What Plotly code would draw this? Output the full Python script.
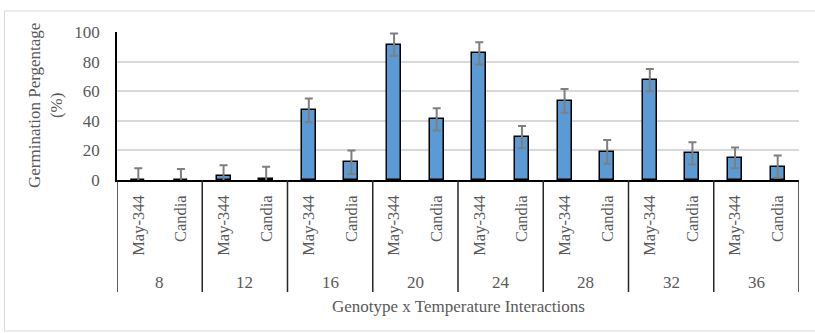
import plotly.graph_objects as go

temperatures = [8, 12, 16, 20, 24, 28, 32, 36]
genotypes = ["May-344", "Candia"]
may344_values = [0, 2.5, 47, 91.5, 85.5, 53.5, 67.5, 15]
candia_values = [0, 1, 12, 41, 29, 19, 18, 9]
may344_err = [8, 7.5, 8, 7.5, 7.5, 8, 7.5, 7]
candia_err = [7.5, 8, 8, 7.5, 7.5, 8, 7.5, 7.5]
y_ticks = [0, 20, 40, 60, 80, 100]

x_pos, y_vals, e_vals, labels = [], [], [], []
for i, t in enumerate(temperatures):
    for j, g in enumerate(genotypes):
        x_pos.append(2 * i + j)
        labels.append(g)
        if j == 0:
            y_vals.append(may344_values[i]); e_vals.append(may344_err[i])
        else:
            y_vals.append(candia_values[i]); e_vals.append(candia_err[i])

FONT = "'Liberation Serif', 'Times New Roman', 'DejaVu Serif', serif"
GRAY = "#595959"

fig = go.Figure()
fig.add_trace(go.Bar(
    x=x_pos, y=y_vals, width=0.33,
    marker=dict(color="#5B9BD5", line=dict(color="#000000", width=1.5)),
    error_y=dict(type="data", array=e_vals, visible=True, color="#7f7f7f", thickness=2, width=4),
    showlegend=False, hoverinfo="skip",
))

n = len(x_pos)
fig.update_xaxes(
    range=[-0.5, n - 0.5], tickmode="array", tickvals=x_pos, ticktext=labels,
    tickangle=-90, showline=True, linecolor="#000000", linewidth=1.5,
    showgrid=False, zeroline=False, ticks="",
    tickfont=dict(family=FONT, size=16.5, color=GRAY), ticklabelstandoff=7,
)
fig.update_yaxes(
    range=[0, 100], tickvals=y_ticks, showline=True, linecolor="#000000", linewidth=1.5,
    gridcolor="#d9d9d9", gridwidth=1.5, zeroline=False, ticks="",
    tickfont=dict(family=FONT, size=17, color=GRAY), ticklabelstandoff=12,
)

shapes = []
for k in range(len(temperatures) + 1):
    xv = 2 * k - 0.5
    shapes.append(dict(type="line", xref="x", yref="paper", x0=xv, x1=xv, y0=0, y1=-0.757,
                       line=dict(color="#262626", width=1.5)))
shapes.append(dict(type="rect", xref="paper", yref="paper", x0=-0.165, x1=1.03, y0=-1.02, y1=1.142,
                   line=dict(color="#d9d9d9", width=1)))

annotations = []
for i, t in enumerate(temperatures):
    annotations.append(dict(x=2 * i + 0.5, xref="x", y=0, yref="paper", yshift=-102,
                            text=str(t), showarrow=False, xanchor="center", yanchor="middle",
                            font=dict(family=FONT, size=17, color=GRAY)))
annotations.append(dict(x=0.5, xref="paper", y=0, yref="paper", yshift=-126,
                        text="Genotype x Temperature Interactions", showarrow=False,
                        xanchor="center", yanchor="middle",
                        font=dict(family=FONT, size=17, color=GRAY)))
annotations.append(dict(x=0, xref="paper", xshift=-72, y=0.5, yref="paper",
                        text="Germination Pergentage<br>(%)", showarrow=False, textangle=-90,
                        xanchor="center", yanchor="middle",
                        font=dict(family=FONT, size=17, color=GRAY)))

fig.update_layout(
    width=815, height=333, margin=dict(l=117, r=16, t=32, b=153),
    plot_bgcolor="white", paper_bgcolor="white",
    shapes=shapes, annotations=annotations, bargap=0,
)
fig.write_html("out.html", config={"displayModeBar": False},
               post_script="document.body.style.margin='0';")
